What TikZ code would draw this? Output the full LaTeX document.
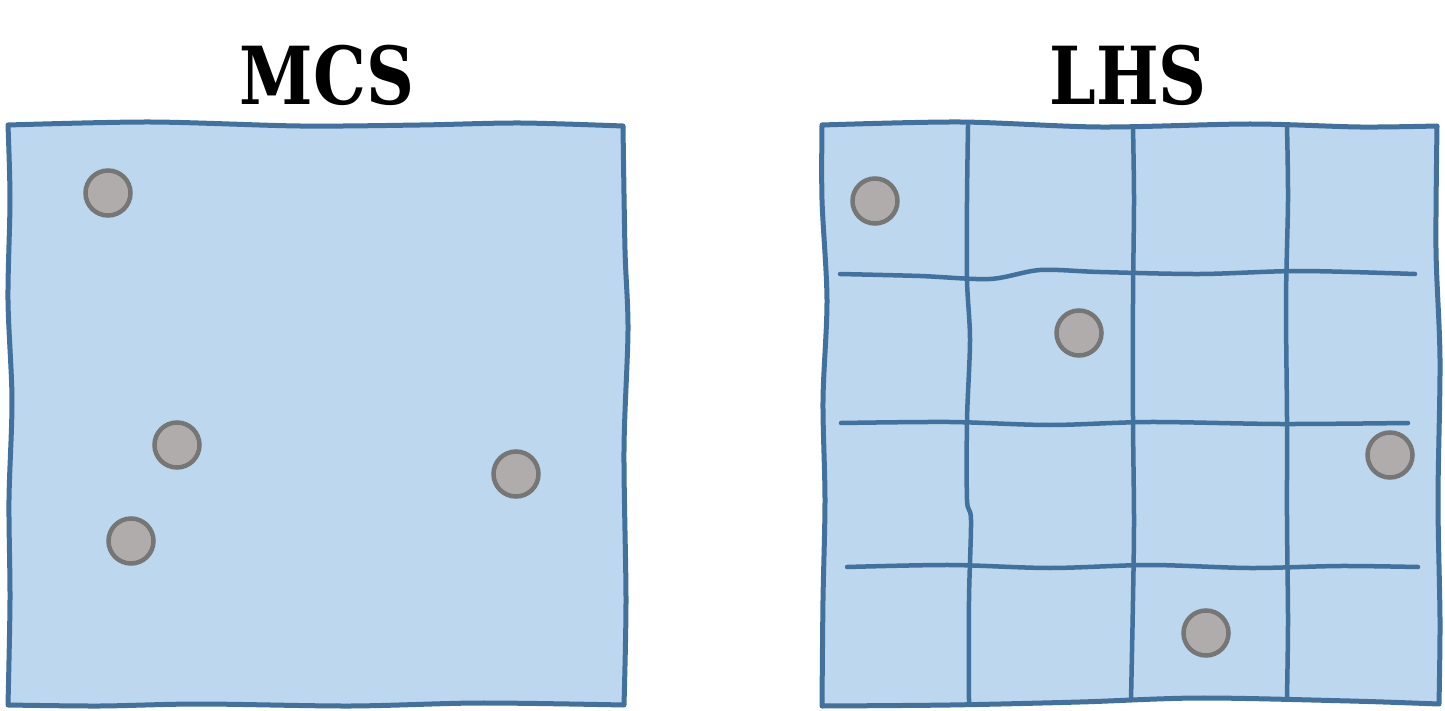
\documentclass[tikz,border=0pt]{standalone}
\usepackage{fontspec}
\usepackage{graphicx}
\setmainfont{DejaVu Serif}
\definecolor{boxfill}{HTML}{BDD7EE}
\definecolor{boxline}{HTML}{41719C}
\definecolor{dotfill}{HTML}{B0ACAB}
\definecolor{dotline}{HTML}{767676}
\newcommand{\ttl}[1]{\scalebox{0.83}[1]{#1}}
\begin{document}
\begin{tikzpicture}[x=1pt,y=-1pt,
  sq/.style={fill=boxfill,draw=boxline,line width=5pt,line join=round},
  gridline/.style={draw=boxline,line width=4.5pt,line cap=round},
  dot/.style={circle,fill=dotfill,draw=dotline,line width=4.5pt,minimum size=45pt,inner sep=0pt},
  title/.style={font=\bfseries\fontsize{80}{90}\selectfont,text=black,inner sep=0pt}]
\useasboundingbox (0,0) rectangle (1445,711);
% left square
\draw[sq] plot[smooth] coordinates {(8,125) (150,122) (300,126) (420,125) (520,123) (623,126)}
  -- plot[smooth] coordinates {(623,126) (625,250) (628,330) (624,450) (626,600) (624,705)}
  -- plot[smooth] coordinates {(624,705) (480,703) (350,706) (200,704) (100,706) (8,705)}
  -- plot[smooth] coordinates {(8,705) (10,600) (9,500) (12,400) (8,300) (10,200) (8,125)} -- cycle;
% right square
\draw[sq] plot[smooth] coordinates {(822,125) (960,122) (1100,127) (1250,124) (1360,127) (1437,126)}
  -- plot[smooth] coordinates {(1437,126) (1436,250) (1440,360) (1438,500) (1440,620) (1439,704)}
  -- plot[smooth] coordinates {(1439,704) (1350,701) (1200,698) (1080,702) (950,705) (822,706)}
  -- plot[smooth] coordinates {(822,706) (823,600) (825,500) (823,400) (827,300) (822,200) (822,125)} -- cycle;
% grid
\draw[gridline] plot[smooth] coordinates {(968,126) (967,200) (967,280) (970,340) (967,420) (967,500) (971,520) (969,600) (969,703)};
\draw[gridline] plot[smooth] coordinates {(1133,127) (1134,200) (1133,300) (1133,420) (1134,520) (1133,600) (1131,700)};
\draw[gridline] plot[smooth] coordinates {(1287,126) (1288,200) (1286,300) (1287,420) (1287,520) (1288,620) (1287,697)};
\draw[gridline] plot[smooth] coordinates {(840,274) (920,276) (990,279) (1040,270) (1100,272) (1200,274) (1300,271) (1415,274)};
\draw[gridline] plot[smooth] coordinates {(841,423) (950,422) (1050,425) (1150,422) (1280,424) (1408,423)};
\draw[gridline] plot[smooth] coordinates {(847,567) (950,565) (1050,568) (1150,565) (1250,568) (1340,566) (1418,567)};
% dots
\node[dot] (a1) at (108,193) {};
\node[dot] (a2) at (177,445) {};
\node[dot] (a3) at (516,474) {};
\node[dot] (a4) at (131,541) {};
\node[dot] (b1) at (875,201) {};
\node[dot] (b2) at (1079,333) {};
\node[dot] (b3) at (1390,455) {};
\node[dot] (b4) at (1206,633) {};
% titles
\node[title] (t1) at (327,75) {\ttl{MCS}};
\node[title] (t2) at (1128,75) {\ttl{LHS}};
\end{tikzpicture}
\end{document}
